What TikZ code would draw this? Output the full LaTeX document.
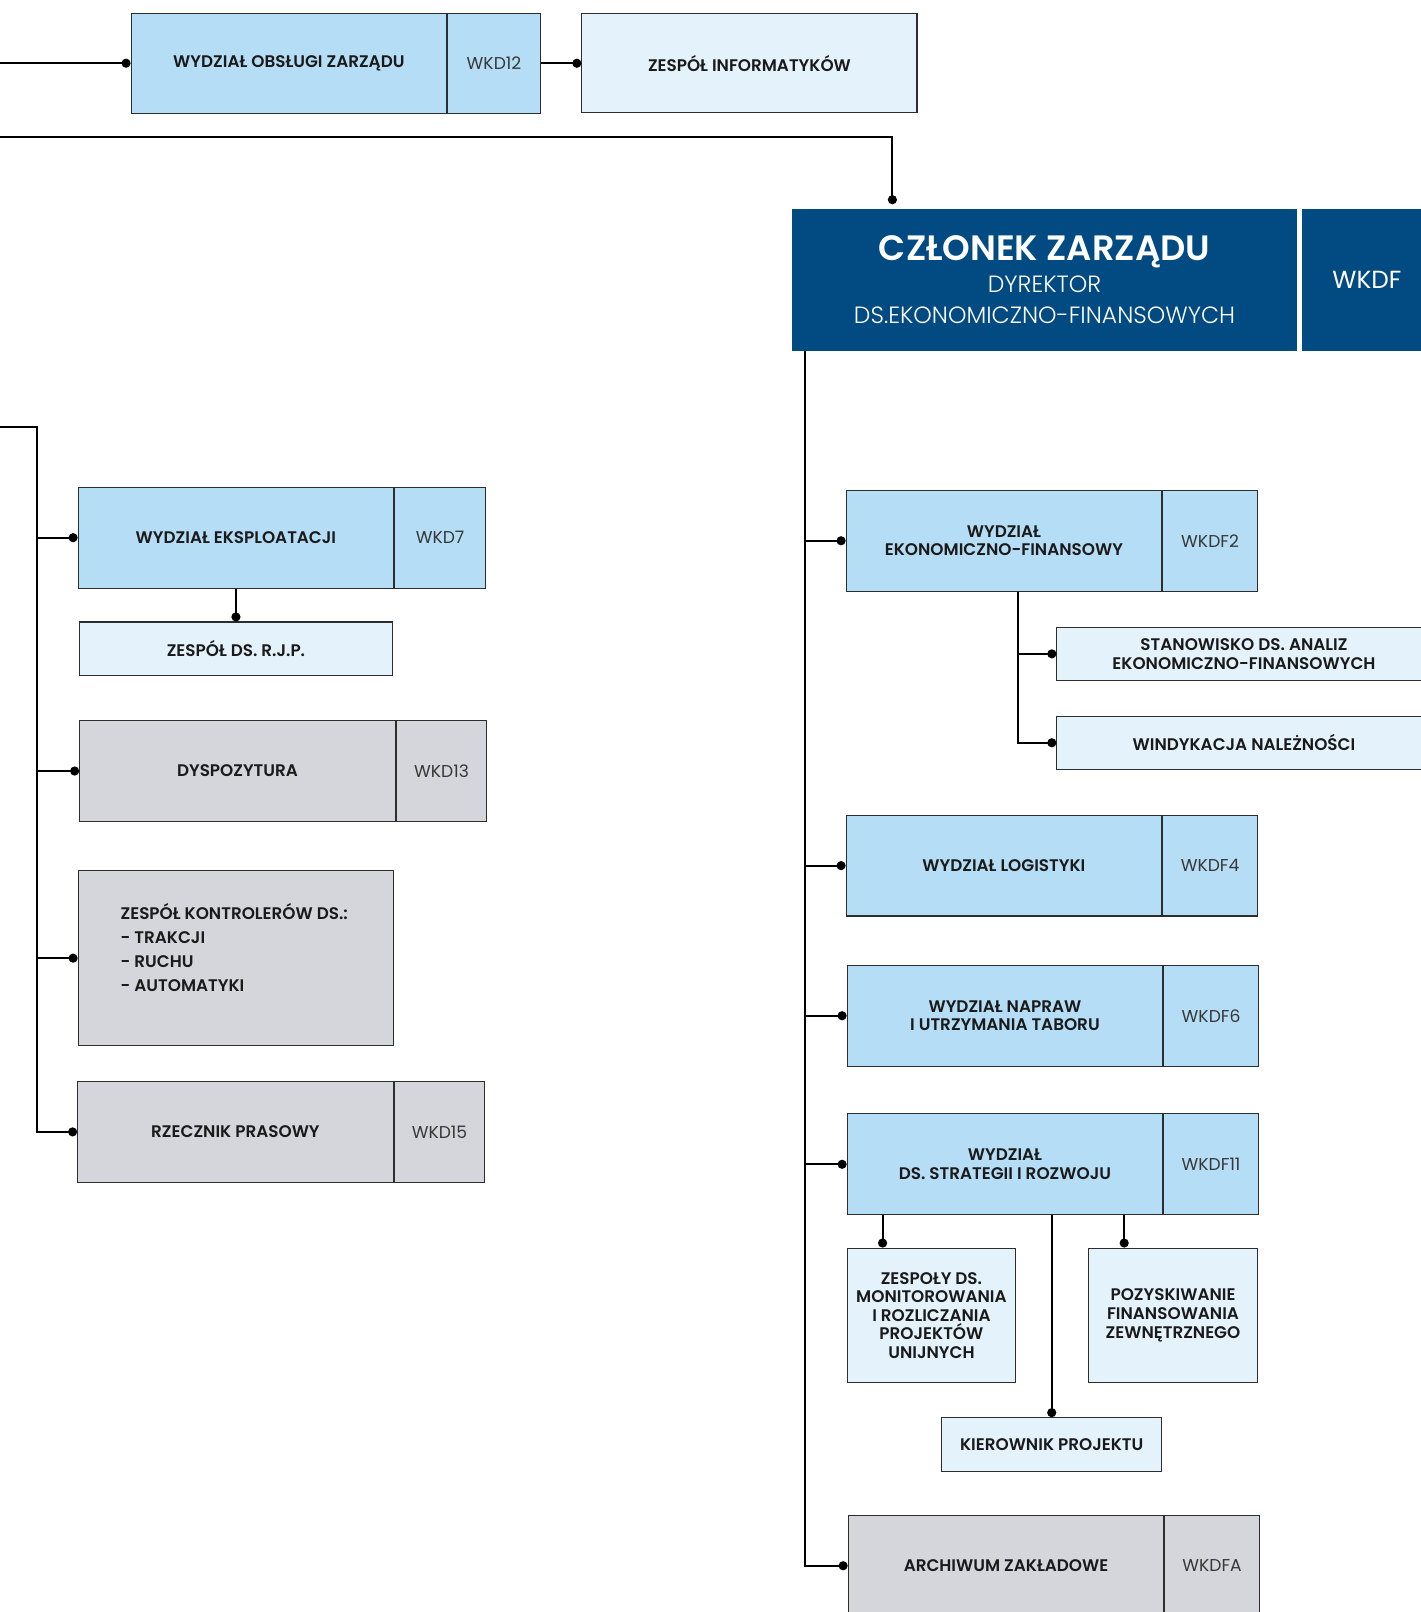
\documentclass[tikz,border=0pt]{standalone}
\usepackage{fontspec}
\setmainfont{Poppins}[BoldFont={* SemiBold}]
\newfontfamily\thinfont{Poppins Light}
\usetikzlibrary{positioning,arrows.meta}
\definecolor{dept}{RGB}{181,221,245}
\definecolor{pale}{RGB}{228,242,252}
\definecolor{grey}{RGB}{213,214,219}
\definecolor{navy}{RGB}{2,74,130}
\definecolor{edge}{RGB}{45,45,45}
\definecolor{ink}{RGB}{26,26,26}
\definecolor{codeink}{RGB}{55,55,55}
\definecolor{mist}{RGB}{214,227,240}
\tikzstyle{base} = [rectangle,
			draw=edge, line width=0.6pt, inner sep=2pt,
			text=ink, align=center,
			font=\bfseries\fontsize{9.3}{10.3}\selectfont]
\tikzstyle{D} = [base, fill=dept,
			minimum width=6.14cm, minimum height=1.96cm]
\tikzstyle{G} = [D, fill=grey]
\tikzstyle{K} = [base, fill=dept,
			minimum width=1.84cm, minimum height=1.96cm,
			text=codeink, font=\fontsize{9.5}{11}\selectfont]
\tikzstyle{KG} = [K, fill=grey]
\tikzstyle{T} = [base, fill=pale, minimum height=1.04cm]
\tikzstyle{N} = [rectangle, fill=navy, text=white, align=center,
			minimum height=2.76cm, inner sep=0pt]
\tikzstyle{L} = [draw, line width=1.1pt, -{Circle[length=5pt]}]

\begin{document}
\begin{tikzpicture}[x=0.02cm, y=-0.02cm]

\useasboundingbox (0,0) rectangle (1382,1568);

% top row
\node [D, minimum height=1.94cm]
(woz) at (281,61.5)
	{WYDZIAŁ OBSŁUGI ZARZĄDU};

\node [K, minimum height=1.94cm, minimum width=1.8cm, right=0pt of woz]
(wkd12)
	{WKD12};

\node [T, minimum width=6.52cm, minimum height=1.92cm]
(zinf) at (729,61.5)
	{ZESPÓŁ INFORMATYKÓW};

\node [N, minimum width=9.84cm,
		font=\thinfont\color{mist}\fontsize{13}{17.6}\selectfont]
(czl) at (1016,272)
	{{\normalfont\bfseries\color{white}\fontsize{19.5}{22}\selectfont CZŁONEK ZARZĄDU}\\
	 DYREKTOR\\
	 DS.EKONOMICZNO-FINANSOWYCH};

\node [N, minimum width=2.52cm, right=0.08cm of czl, font=\fontsize{13.7}{16}\selectfont]
(wkdf)
	{WKDF};

% left column
\node [D]
(we) at (229.5,523)
	{WYDZIAŁ EKSPLOATACJI};

\node [K, minimum width=1.76cm, right=0pt of we]
(wkd7)
	{WKD7};

\node [T, minimum width=6.1cm]
(rjp) at (229.5,631)
	{ZESPÓŁ DS. R.J.P.};

\node [G]
(dys) at (231,750)
	{DYSPOZYTURA};

\node [KG, minimum width=1.76cm, right=0pt of dys]
(wkd13)
	{WKD13};

\node [G, minimum height=3.4cm]
(zk) at (229.5,932)
	{};

\node [anchor=west, align=left, inner sep=0pt, text=ink,
		font=\bfseries\fontsize{9.3}{13.3}\selectfont]
(zkt) at (117,922)
	{ZESPÓŁ KONTROLERÓW DS.:\\- TRAKCJI\\- RUCHU\\- AUTOMATYKI};

\node [G]
(rp) at (229,1101)
	{RZECZNIK PRASOWY};

\node [KG, minimum width=1.76cm, right=0pt of rp]
(wkd15)
	{WKD15};

% right column
\node [D]
(wef) at (976.5,526)
	{WYDZIAŁ\\EKONOMICZNO-FINANSOWY};

\node [K, right=0pt of wef]
(wkdf2)
	{WKDF2};

\node [T, minimum width=7.28cm]
(stan) at (1210,636)
	{STANOWISKO DS. ANALIZ\\EKONOMICZNO-FINANSOWYCH};

\node [T, minimum width=7.28cm]
(wind) at (1210,722.5)
	{WINDYKACJA NALEŻNOŚCI};

\node [D]
(wl) at (976.5,842)
	{WYDZIAŁ LOGISTYKI};

\node [K, right=0pt of wl]
(wkdf4)
	{WKDF4};

\node [D]
(wn) at (977.5,988)
	{WYDZIAŁ NAPRAW\\I UTRZYMANIA TABORU};

\node [K, right=0pt of wn]
(wkdf6)
	{WKDF6};

\node [D]
(ws) at (977.5,1132.5)
	{WYDZIAŁ\\DS. STRATEGII I ROZWOJU};

\node [K, right=0pt of ws]
(wkdf11)
	{WKDF11};

\node [T, minimum width=3.28cm, minimum height=2.62cm]
(zesp) at (906,1279.5)
	{ZESPOŁY DS.\\MONITOROWANIA\\I ROZLICZANIA\\PROJEKTÓW\\UNIJNYCH};

\node [T, minimum width=3.28cm, minimum height=2.62cm]
(poz) at (1141,1279.5)
	{POZYSKIWANIE\\FINANSOWANIA\\ZEWNĘTRZNEGO};

\node [T, minimum width=4.28cm]
(kp) at (1023,1405)
	{KIEROWNIK PROJEKTU};

\node [G]
(az) at (978.5,1523)
	{ARCHIWUM ZAKŁADOWE};

\node [KG, right=0pt of az]
(wkdfa)
	{WKDFA};

% free ends and bends
\coordinate (edge) at (0,0);
\coordinate (bus) at (0,133);
\coordinate (lbus) at (0,415);
\coordinate (lt) at (36,415);
\coordinate [right=0.26cm of czl.south west] (rt);
\coordinate [left=2.96cm of czl.north] (czlin);
\coordinate [right=0.27cm of wef.south] (wefs);
\coordinate [right=0.7cm of zesp.north west] (zsa);
\coordinate [right=0.7cm of poz.north west] (pza);

\path[L] (woz.west -| edge) -- (woz.west);

\path[L] (wkd12.east) -- (wkd12.east -| zinf.west);

\path[L] (bus) -| ([yshift=0.08cm]czlin);

\path[L] (lbus) -| (lt |- rp.west) -- (rp.west);

\path[L] (lt |- we.west) -- (we.west);

\path[L] (lt |- dys.west) -- (dys.west);

\path[L] (lt |- zk.west) -- (zk.west);

\path[L] (we) -- (rjp);

\path[L] (rt) |- (az.west);

\path[L] (rt |- wef.west) -- (wef.west);

\path[L] (rt |- wl.west) -- (wl.west);

\path[L] (rt |- wn.west) -- (wn.west);

\path[L] (rt |- ws.west) -- (ws.west);

\path[L] (wefs) |- (stan.west);

\path[L] (wefs) |- (wind.west);

\path[L] (zsa |- ws.south) -- (zsa);

\path[L] (pza |- ws.south) -- (pza);

\path[L] (kp.north |- ws.south) -- (kp.north);

\end{tikzpicture}
\end{document}
